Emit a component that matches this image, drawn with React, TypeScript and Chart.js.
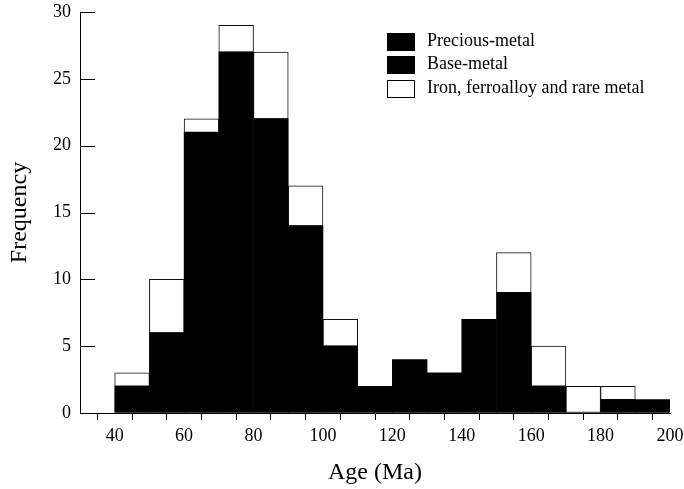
import React, { useEffect, useRef } from "react";
import { Chart, registerables } from "chart.js";

Chart.register(...registerables);

// Bin centres (10 Ma bins from 40 to 200 Ma)
const binCenters = [45, 55, 65, 75, 85, 95, 105, 115, 125, 135, 145, 155, 165, 175, 185, 195];
// Precious-metal + base-metal deposits (both drawn black)
const preciousBaseCounts = [2, 6, 21, 27, 22, 14, 5, 2, 4, 3, 7, 9, 2, 0, 1, 1];
// Iron, ferroalloy and rare metal deposits (stacked on top, white)
const ironCounts = [1, 4, 1, 2, 5, 3, 2, 0, 0, 0, 0, 3, 3, 2, 1, 0];

const legendLabels = ["Precious-metal", "Base-metal", "Iron, ferroalloy and rare metal"];
const legendColors = ["#000000", "#000000", "#ffffff"];

const xTitle = "Age (Ma)";
const yTitle = "Frequency";

const FONT = "'Liberation Serif', 'Times New Roman', serif";

export default function App() {
  const canvasRef = useRef<HTMLCanvasElement | null>(null);

  useEffect(() => {
    if (!canvasRef.current) return;

    const inwardTicks = {
      id: "inwardTicks",
      afterDatasetsDraw(chart: any) {
        const ys = chart.scales.y;
        const ctx = chart.ctx;
        ctx.save();
        ctx.strokeStyle = "#000";
        ctx.lineWidth = 1;
        ctx.beginPath();
        ys.ticks.forEach((t: any) => {
          const y = Math.round(ys.getPixelForValue(t.value)) + 0.5;
          ctx.moveTo(ys.right, y);
          ctx.lineTo(ys.right + 15, y);
        });
        ctx.stroke();
        ctx.restore();
      },
    };

    const customLegend = {
      id: "customLegend",
      afterDraw(chart: any) {
        const ctx = chart.ctx;
        ctx.save();
        ctx.font = `18px ${FONT}`;
        ctx.textBaseline = "middle";
        ctx.textAlign = "left";
        legendLabels.forEach((label, i) => {
          const cy = 41 + i * 23.5;
          const bx = 387.5;
          const by = Math.round(cy - 8.5) + 0.5;
          ctx.fillStyle = legendColors[i];
          ctx.fillRect(bx, by, 27, 17);
          ctx.strokeStyle = "#000";
          ctx.lineWidth = 1;
          ctx.strokeRect(bx, by, 27, 17);
          ctx.fillStyle = "#000";
          ctx.fillText(label, 427, cy);
        });
        ctx.restore();
      },
    };

    const chart = new Chart(canvasRef.current, {
      type: "bar",
      data: {
        datasets: [
          {
            label: "Precious-metal and base-metal",
            data: binCenters.map((x, i) => ({ x, y: preciousBaseCounts[i] })),
            backgroundColor: "#000000",
            borderColor: "#000000",
            borderWidth: 0,
            barPercentage: 1,
            categoryPercentage: 1,
          },
          {
            label: "Iron, ferroalloy and rare metal",
            data: binCenters.map((x, i) => ({ x, y: ironCounts[i] })),
            backgroundColor: "#ffffff",
            borderColor: "#111111",
            borderWidth: 1,
            borderSkipped: false,
            barPercentage: 1,
            categoryPercentage: 1,
          },
        ],
      },
      options: {
        responsive: false,
        animation: false,
        layout: { padding: { top: 12, right: 14, left: 0, bottom: 0 } },
        plugins: {
          legend: { display: false },
          tooltip: { enabled: false },
        },
        scales: {
          x: {
            type: "linear",
            stacked: true,
            min: 30,
            max: 200,
            offset: false,
            afterFit(scale: any) {
              scale.height = 76;
              scale.paddingRight = 0;
              scale.paddingLeft = 0;
            },
            ticks: {
              stepSize: 10,
              autoSkip: false,
              maxRotation: 0,
              padding: 5,
              color: "#000",
              font: { family: FONT, size: 18 },
              callback: (v: any) => (Number(v) % 20 === 0 ? String(v) : ""),
            },
            grid: {
              drawOnChartArea: false,
              drawTicks: true,
              tickLength: 7,
              color: "#000",
              lineWidth: 1,
            },
            border: { display: true, color: "#000", width: 1 },
            title: {
              display: true,
              text: xTitle,
              color: "#000",
              font: { family: FONT, size: 24 },
              padding: { top: 0, bottom: 2 },
            },
          },
          y: {
            type: "linear",
            stacked: true,
            min: 0,
            max: 30,
            afterFit(scale: any) {
              scale.width = 80;
              scale.paddingTop = 0;
              scale.paddingBottom = 0;
            },
            ticks: {
              stepSize: 5,
              padding: 9,
              color: "#000",
              font: { family: FONT, size: 18 },
            },
            grid: {
              drawOnChartArea: false,
              drawTicks: false,
            },
            border: { display: true, color: "#000", width: 1 },
            title: {
              display: true,
              text: yTitle,
              color: "#000",
              font: { family: FONT, size: 24 },
              padding: { top: 5, bottom: 0 },
            },
          },
        },
      },
      plugins: [inwardTicks, customLegend],
    } as any);

    return () => {
      chart.destroy();
    };
  }, []);

  return (
    <div style={{ position: "absolute", left: 0, top: 0, width: 684, height: 489, background: "#fff" }}>
      <canvas ref={canvasRef} width={684} height={489} style={{ display: "block" }} />
    </div>
  );
}
